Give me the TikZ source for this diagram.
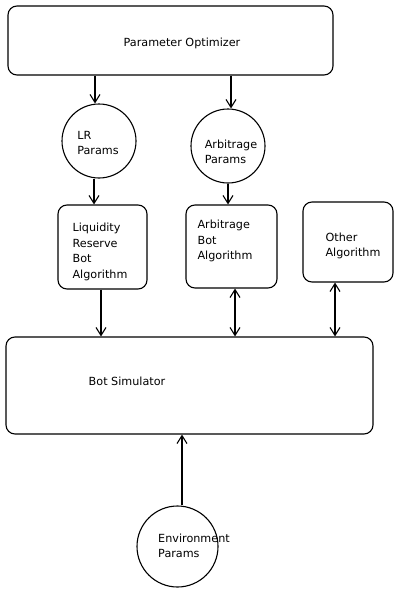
\documentclass[tikz,border=0pt]{standalone}
\usepackage{fontspec}
\setmainfont{DejaVu Sans}
\usetikzlibrary{arrows.meta}

\begin{document}
\begin{tikzpicture}[x=1pt, y=-1pt, line width=1.1pt,
  >={Straight Barb[length=8pt, width=10pt]},
  box/.style={draw, rounded corners=9pt, inner sep=0pt},
  disc/.style={draw, circle, inner sep=0pt},
  txt/.style={align=left, inner sep=0pt, font=\fontsize{11.2}{15.5}\selectfont}]
\useasboundingbox (0,0) rectangle (400,594);
% shapes
\node[box, minimum width=325pt, minimum height=69pt] (PO) at (170.5,40.5) {};
\node[disc, minimum size=74pt] (LR) at (99,141) {};
\node[disc, minimum size=74pt] (AP) at (228,146) {};
\node[box, minimum width=89pt, minimum height=84pt] (LRB) at (102.5,247) {};
\node[box, minimum width=91pt, minimum height=83pt] (ABB) at (231.5,246.5) {};
\node[box, minimum width=90pt, minimum height=80pt] (OA) at (348,242) {};
\node[box, minimum width=367pt, minimum height=97pt] (BS) at (189.5,385.5) {};
\node[disc, minimum size=81pt] (EP) at (177.5,546.5) {};
% texts
\node[txt] (PO-t) at (182,43) {Parameter Optimizer};
\node[txt] (LR-t) at (98,143) {LR\\Params};
\node[txt] (AP-t) at (231,152) {Arbitrage\\Params};
\node[txt] (LRB-t) at (100,252) {Liquidity\\Reserve\\Bot\\Algorithm};
\node[txt] (ABB-t) at (225,241) {Arbitrage\\Bot\\Algorithm};
\node[txt] (OA-t) at (353,246) {Other\\Algorithm};
\node[txt] (BS-t) at (127,381) {Bot Simulator};
\node[txt] (EP-t) at (194,546) {Environment\\Params};
% arrows
\draw[->] ([xshift=-4pt]LR.north |- PO.south) -- ([xshift=-4pt]LR.north);
\draw[->] ([xshift=3pt]AP.north |- PO.south) -- ([xshift=3pt]AP.north);
\draw[->] ([xshift=-5pt]LR.south) -- ([xshift=-5pt]LR.south |- LRB.north);
\draw[->] (AP.south) -- (AP.south |- ABB.north);
\draw[->] ([xshift=-1.5pt]LRB.south) -- ([xshift=-1.5pt]LRB.south |- BS.north);
\draw[<->] ([xshift=3.5pt]ABB.south) -- ([xshift=3.5pt]ABB.south |- BS.north);
\draw[<->] ([xshift=-13pt]OA.south) -- ([xshift=-13pt]OA.south |- BS.north);
\draw[->] ([xshift=4.5pt]EP.north) -- ([xshift=4.5pt]EP.north |- BS.south);
\end{tikzpicture}
\end{document}
